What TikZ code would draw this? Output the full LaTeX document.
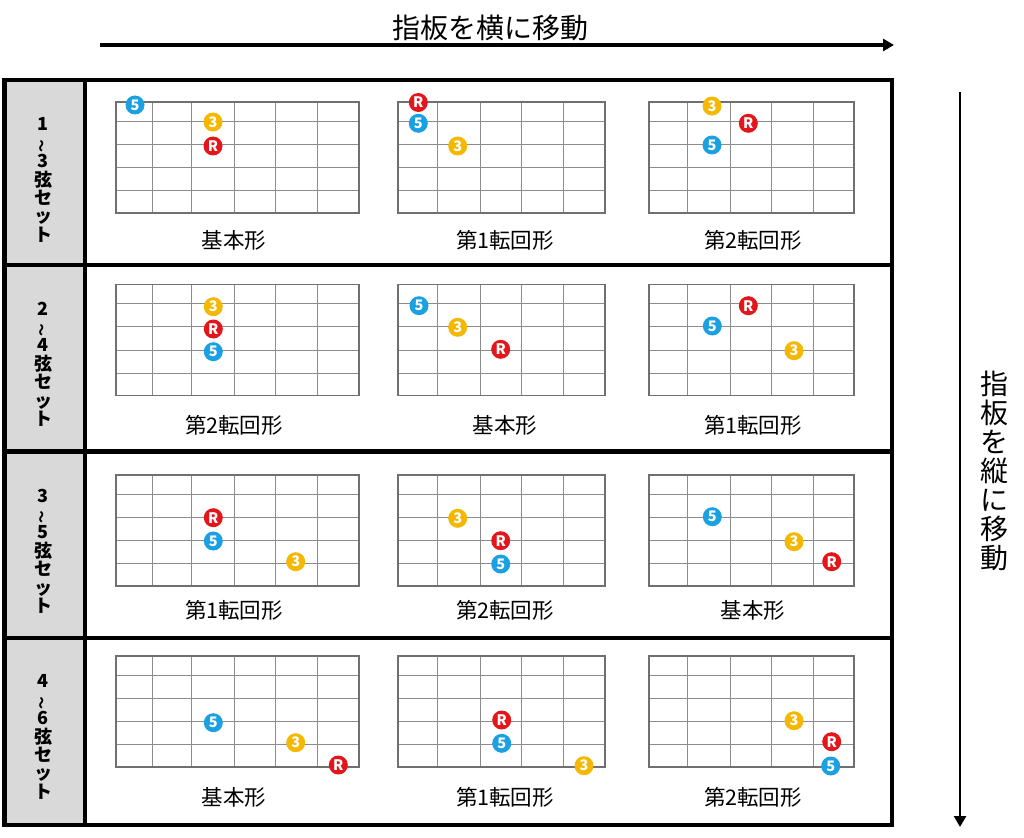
\documentclass[tikz,border=0pt]{standalone}
\usepackage{fontspec}
\usepackage{graphicx}
\setmainfont{Noto Sans CJK JP}
\usetikzlibrary{arrows.meta}
\definecolor{dotblue}{HTML}{1BA1E2}
\definecolor{dotyel}{HTML}{F4B800}
\definecolor{dotred}{HTML}{E3161B}
\definecolor{cellgray}{HTML}{D9D9D9}
\definecolor{gridline}{HTML}{8C8C8C}
\definecolor{gridedge}{HTML}{707070}
\tikzset{
  gridthin/.style={draw=gridline, line width=1pt},
  gridthick/.style={draw=gridedge, line width=1.8pt},
  framebox/.style={draw=black, line width=4.5pt},
  dotbase/.style={circle, inner sep=0pt, minimum size=19pt, text=white,
    font=\bfseries\fontsize{14.5}{14.5}\selectfont},
  fiveD/.style={dotbase, fill=dotblue},
  threeD/.style={dotbase, fill=dotyel},
  rootD/.style={dotbase, fill=dotred},
  formlabel/.style={inner sep=0pt, font=\fontsize{21.5}{24}\selectfont},
  setlabel/.style={inner sep=0pt, align=center, font=\bfseries\fontsize{18}{18.4}\selectfont},
  bigtext/.style={inner sep=0pt, align=center, font=\fontsize{28}{29}\selectfont},
  movearrow/.style={-{Triangle[length=11pt,width=12pt]}, line width=#1},
}
\newcommand{\fretgrid}[4]{%
  \foreach \xx in {#4} {\draw[gridthin] (\xx,#3) -- (\xx,#3+111);}
  \foreach \yy in {19.3,42.3,65.5,88.5} {\draw[gridthin] (#1,#3+\yy) -- (#2,#3+\yy);}
  \draw[gridthick] (#1,#3) rectangle (#2,#3+111);
}
\newcommand{\wv}{\smash{\rotatebox[origin=c]{90}{\scalebox{0.7}{〜}}}}
\begin{document}
\begin{tikzpicture}[x=1pt,y=-1pt]
\useasboundingbox (0,0) rectangle (1024,837);
\fill[white] (0,0) rectangle (1024,837);

% frame
\fill[cellgray] (4.5,80) rectangle (85,825);
\draw[framebox] (4.5,80) rectangle (892,825);
\draw[framebox] (85,80) -- (85,825);
\foreach \yy in {265,451.5,638} {\draw[framebox] (4.5,\yy) -- (892,\yy);}

% set labels
\node[setlabel] (s1) at (43,180) {1\\\wv\\3\\弦\\セ\\ッ\\ト};
\node[setlabel] (s2) at (43,364) {2\\\wv\\4\\弦\\セ\\ッ\\ト};
\node[setlabel] (s3) at (43,551) {3\\\wv\\5\\弦\\セ\\ッ\\ト};
\node[setlabel] (s4) at (43,737) {4\\\wv\\6\\弦\\セ\\ッ\\ト};

% fretboards
\foreach \tp in {102.3,284.5,475,656} {
  \fretgrid{116}{359}{\tp}{152.7,191,234.3,275.3,317.7}
  \fretgrid{398.3}{605.3}{\tp}{437.3,480.7,521.7,563.7}
  \fretgrid{648.7}{854.3}{\tp}{687.3,730.7,771,813.3}
}

% row 1
\node[fiveD]  (a15) at (135,105) {5};
\node[threeD] (a13) at (213,122) {3};
\node[rootD]  (a1R) at (213,146) {R};
\node[rootD]  (b1R) at (418.3,102.5) {R};
\node[fiveD]  (b15) at (418.3,123.3) {5};
\node[threeD] (b13) at (457.7,146) {3};
\node[threeD] (c13) at (712,106) {3};
\node[rootD]  (c1R) at (748.3,123.3) {R};
\node[fiveD]  (c15) at (712,145) {5};
% row 2
\node[threeD] (a23) at (213.3,306.7) {3};
\node[rootD]  (a2R) at (213.3,329) {R};
\node[fiveD]  (a25) at (213.3,351.7) {5};
\node[fiveD]  (b25) at (419,305.7) {5};
\node[threeD] (b23) at (457.7,327.3) {3};
\node[rootD]  (b2R) at (500.7,349.3) {R};
\node[rootD]  (c2R) at (748.3,305.7) {R};
\node[fiveD]  (c25) at (712.3,326) {5};
\node[threeD] (c23) at (794,350.7) {3};
% row 3
\node[rootD]  (a3R) at (213.3,517.7) {R};
\node[fiveD]  (a35) at (213.3,541) {5};
\node[threeD] (a33) at (295.7,561.7) {3};
\node[threeD] (b33) at (457.7,518.3) {3};
\node[rootD]  (b3R) at (500.7,540.7) {R};
\node[fiveD]  (b35) at (500.7,564) {5};
\node[fiveD]  (c35) at (712.3,516.7) {5};
\node[threeD] (c33) at (794,541.7) {3};
\node[rootD]  (c3R) at (831.7,561.7) {R};
% row 4
\node[fiveD]  (a45) at (213.3,722.7) {5};
\node[threeD] (a43) at (295.7,742.7) {3};
\node[rootD]  (a4R) at (338.3,765) {R};
\node[rootD]  (b4R) at (501.7,720) {R};
\node[fiveD]  (b45) at (501.7,743.3) {5};
\node[threeD] (b43) at (584,765.7) {3};
\node[threeD] (c43) at (794,720.7) {3};
\node[rootD]  (c4R) at (831.7,741.7) {R};
\node[fiveD]  (c45) at (830.7,766) {5};

% form labels
\node[formlabel] (l1a) at (234,240) {基本形};
\node[formlabel] (l1b) at (505,240) {第1転回形};
\node[formlabel] (l1c) at (753,240) {第2転回形};
\node[formlabel] (l2a) at (234,425) {第2転回形};
\node[formlabel] (l2b) at (505,425) {基本形};
\node[formlabel] (l2c) at (753,425) {第1転回形};
\node[formlabel] (l3a) at (234,610) {第1転回形};
\node[formlabel] (l3b) at (505,610) {第2転回形};
\node[formlabel] (l3c) at (753,610) {基本形};
\node[formlabel] (l4a) at (234,797) {基本形};
\node[formlabel] (l4b) at (505,797) {第1転回形};
\node[formlabel] (l4c) at (753,797) {第2転回形};

% movement arrows and texts
\node[bigtext] (htext) at (490,28) {指板を横に移動};
\coordinate (ha) at (100,45);
\coordinate (hb) at (894,45);
\draw[movearrow=3.5pt] (ha) -- (hb);
\node[bigtext] (vtext) at (994,471) {指\\板\\を\\縦\\に\\移\\動};
\coordinate (va) at (960,92);
\coordinate (vb) at (960,827);
\draw[movearrow=2.5pt] (va) -- (vb);
\end{tikzpicture}
\end{document}
